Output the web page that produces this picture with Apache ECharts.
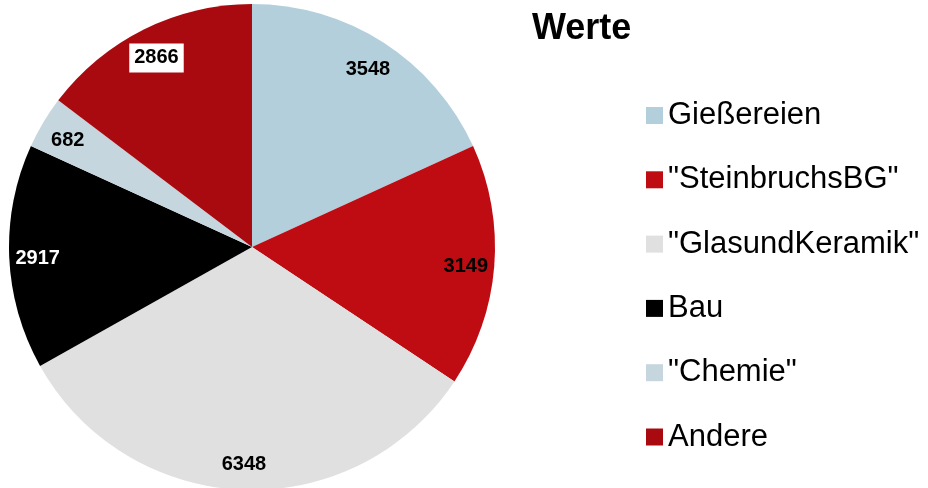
<!DOCTYPE html>
<html>
<head>
<meta charset="utf-8">
<script src="https://cdn.jsdelivr.net/npm/echarts@6/dist/echarts.min.js"></script>
<style>html,body{margin:0;padding:0;background:#fff;}#c{width:928px;height:488px;}</style>
</head>
<body>
<div id="c"></div>
<script>
const categories = ['Gießereien', '"SteinbruchsBG"', '"GlasundKeramik"', 'Bau', '"Chemie"', 'Andere'];
const values = [3548, 3149, 6348, 2917, 682, 2866];
const colors = ['#B3CFDB', '#BE0C12', '#E0E0E0', '#000000', '#C6D6DE', '#A80A10'];
const labelColors = ['#000', '#000', '#000', '#fff', '#000', '#000'];
const boxedLabel = 'Andere';

const chart = echarts.init(document.getElementById('c'), null, {renderer: 'canvas'});
const font = '"Liberation Sans", Arial, sans-serif';

const mainData = categories.map((n, i) => ({
  name: n, value: values[i],
  itemStyle: {color: colors[i], borderWidth: 0}
}));
const labelData = categories.map((n, i) => ({
  name: n, value: values[i],
  label: Object.assign({color: labelColors[i]},
    n === boxedLabel ? {backgroundColor: '#fff', padding: [5, 5, 4, 5]} : {})
}));

chart.setOption({
  animation: false,
  backgroundColor: '#fff',
  title: {
    text: 'Werte', left: 527, top: 6,
    textStyle: {fontFamily: font, fontSize: 36, fontWeight: 'bold', color: '#000', lineHeight: 36}
  },
  legend: {
    orient: 'vertical', left: 641, top: 95,
    itemWidth: 17, itemHeight: 17, itemGap: 33.3,
    icon: 'rect',
    data: categories,
    textStyle: {fontFamily: font, fontSize: 31, color: '#000', lineHeight: 31, padding: [0, 0, 0, 0]}
  },
  series: [
    {
      type: 'pie', name: 'main',
      center: [252, 247], radius: [0, 243],
      startAngle: 90, clockwise: true,
      label: {show: false}, labelLine: {show: false},
      emphasis: {disabled: true},
      itemStyle: {borderWidth: 0},
      data: mainData
    },
    {
      type: 'pie', name: 'labels',
      center: [252, 247], radius: [180, 243],
      startAngle: 90, clockwise: true, silent: true,
      itemStyle: {color: 'rgba(0,0,0,0)', borderWidth: 0},
      emphasis: {disabled: true},
      labelLine: {show: false},
      label: {
        show: true, position: 'inside', offset: [0, 3],
        formatter: p => String(p.value),
        fontFamily: font, fontSize: 20, fontWeight: 'bold', lineHeight: 20
      },
      data: labelData
    }
  ]
});
</script>
</body>
</html>
